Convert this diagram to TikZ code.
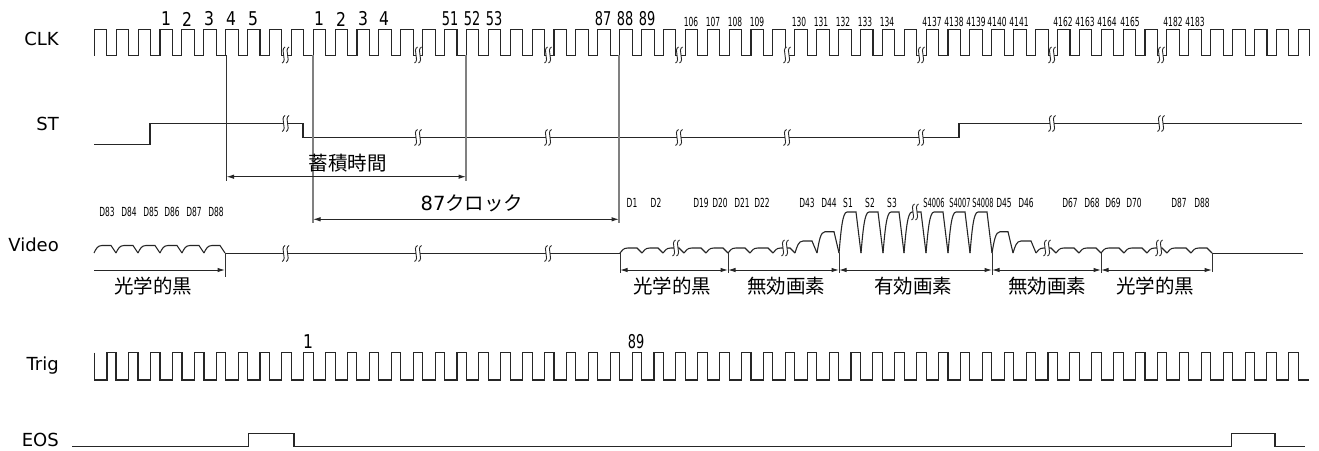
\documentclass[tikz,border=0pt]{standalone}
\usepackage{fontspec}
\usepackage{amsmath}
\setmainfont{DejaVu Sans}
\newfontfamily\jp{Noto Sans CJK JP}
\newfontfamily\onefont[FakeStretch=0.82]{DejaVu Sans}
\newfontfamily\twofont[FakeStretch=0.68]{DejaVu Sans}
\newfontfamily\smallfont[FakeStretch=0.6]{DejaVu Sans}
\newfontfamily\tinyfont[FakeStretch=0.53]{DejaVu Sans}
\usetikzlibrary{arrows.meta}

\tikzset{
  wave/.style={line width=1.1pt, color=black!85},
  mark line/.style={line width=1pt, color=black!80},
  grey line/.style={line width=1.3pt, color=black!50},
  span/.style={line width=1pt, color=black!85, {Latex[length=7.5pt,width=4.5pt]}-{Latex[length=7.5pt,width=4.5pt]}},
  halfspan/.style={line width=1pt, color=black!85, -{Latex[length=7.5pt,width=4.5pt]}},
  signal/.style={font=\fontsize{18}{18}\selectfont, inner sep=0pt, anchor=east},
  bigno/.style={font=\onefont\fontsize{19}{19}\selectfont, inner sep=0pt},
  midno/.style={font=\twofont\fontsize{19}{19}\selectfont, inner sep=0pt},
  smallno/.style={font=\smallfont\fontsize{12.5}{12.5}\selectfont, inner sep=0pt},
  tinyno/.style={font=\tinyfont\fontsize{12.5}{12.5}\selectfont, inner sep=0pt},
  jplabel/.style={font=\jp\fontsize{19.5}{19.5}\selectfont, inner sep=0pt},
  brk/.pic={
    \fill[white] (-2,-7) rectangle (2,7);
    \foreach \d in {-2,2}
      \draw[line width=0.9pt, color=black!85] (\d+1.5,-8) .. controls (\d-1,-7) and (\d-1,-3) .. (\d,0) .. controls (\d+1,3) and (\d+1,7) .. (\d-1.5,8);
  }
}

\begin{document}
\begin{tikzpicture}[x=1pt, y=-1pt]
\useasboundingbox (0,0) rectangle (1319,450);

% signal names
\node[signal] (clk) at (59,39) {CLK};
\node[signal] (st) at (59,124) {ST};
\node[signal] (video) at (59,245) {Video};
\node[signal] (trig) at (59,366) {Trig};
\node[signal] (eos) at (59,440) {EOS};

% clock numbers
\foreach \x/\t in {166/1, 187/2, 209/3, 231/4, 253/5, 319/1, 341/2, 363/3, 384/4}
  \node[bigno] (no\x) at (\x,19) {\t};
\foreach \x/\t in {450/51, 472/52, 494/53, 603/87, 625/88, 647/89}
  \node[midno] (no\x) at (\x,19) {\t};
\foreach \x/\t in {691/106, 713/107, 735/108, 757/109, 799/130, 821/131, 843/132, 865/133, 887/134,
  932/4137, 954/4138, 976/4139, 997/4140, 1019/4141, 1063/4162, 1085/4163, 1107/4164, 1130/4165,
  1173/4182, 1195/4183}
  \node[smallno] (no\x) at (\x,21.5) {\t};

% pixel names
\foreach \x/\t in {107/D83, 129/D84, 151/D85, 172/D86, 194/D87, 216/D88}
  \node[smallno] (px\x) at (\x,212) {\t};
\foreach \x/\t in {632/D1, 656/D2, 701/D19, 720/D20, 742/D21, 762/D22, 807/D43, 829/D44,
  848/S1, 870/S2, 892/S3, 1004/D45, 1026/D46, 1070/D67, 1092/D68, 1113/D69, 1134/D70, 1179/D87, 1202/D88}
  \node[smallno] (px\x) at (\x,203) {\t};
\foreach \x/\t in {934/S4006, 960/S4007, 983/S4008}
  \node[tinyno] (px\x) at (\x,203) {\t};

% CLK
\draw[wave] (94.3,55.5) \foreach \n in {0,...,54} {-- ++(0,-26) -- ++(12.5,0) -- ++(0,26) -- ++(9.39,0)}
  -- ++(0,-26) -- ++(11,0) -- ++(0,26);

% ST
\draw[wave] (94,144.5) -- (150,144.5) -- (150,123.5) -- (303,123.5) -- (303,137.5) -- (959,137.5) -- (959,123.5) -- (1302,123.5);

% Trig
\draw[wave, line width=1.5pt] (94.3,352.5) \foreach \n in {0,...,5} {-- ++(0,27.5) -- ++(12.5,0) -- ++(0,-27.5) -- ++(9.39,0)};
\draw[wave] (225.6,352.5) \foreach \n in {6,...,54} {-- ++(0,27.5) -- ++(12.5,0) -- ++(0,-27.5) -- ++(9.39,0)}
  -- ++(0,27.5) -- ++(11,0);
\node[bigno] (one) at (308,342) {1};
\node[midno] (eightynine) at (636,342) {89};

% EOS
\draw[wave] (72,446.5) -- (248.5,446.5) -- (248.5,433.5) -- (294,433.5) -- (294,446.5) -- (1231.7,446.5)
  -- (1231.7,433.5) -- (1275,433.5) -- (1275,446.5) -- (1305,446.5);

% Video
\draw[wave] (225,253.5) -- (620,253.5);
\draw[wave] (1212,253.5) -- (1303,253.5);
\foreach \a/\b/\h in {94/116/245.5, 116/138/245.5, 138/160/245.5, 160/182/245.5, 182/204/245.5, 204/225/245.5,
  620/642/248, 642/663/248, 663/684/248, 684/706/248, 706/728/248, 728/750/248, 750/773/248, 773/795/248,
  795/817/241, 817/839/231.7, 839/861/212, 861/883/212, 883/904/212, 904/926/212, 926/948/212, 948/970/212, 970/992/212,
  992/1013/231.7, 1013/1036/241, 1036/1056/248, 1056/1079/248, 1079/1101/248, 1101/1124/248, 1124/1147/248,
  1147/1167/248, 1167/1191/248, 1191/1212/248}
  \draw[wave] (\a,253) .. controls (\a+2,{\h+(253-\h)*0.45}) and (\a+3.5,\h) .. (\a+8,\h) -- (\b-5,\h) -- (\b,253);

% breaks
\foreach \x in {285.6,418,548,679,787,921,1052,1161}
  \pic at (\x,55) {brk};
\foreach \x in {285.6,1052,1161}
  \pic at (\x,123.5) {brk};
\foreach \x in {418,548,679,787,921}
  \pic at (\x,137.5) {brk};
\foreach \x in {285.6,418,548}
  \pic at (\x,253.5) {brk};
\foreach \x in {676,785,1047,1159}
  \pic at (\x,248) {brk};
\pic at (915,212) {brk};

% timing marks
\foreach \n/\x/\a/\b in {a/226.5/55/181}{
  \coordinate (top\n) at (\x,\a);
  \coordinate (bot\n) at (\x,\b);
  \draw[mark line] (top\n) -- (bot\n);
}
\foreach \n/\x/\a/\b in {c/313/55/223, d/466/55/181, e/619/55/223}{
  \coordinate (top\n) at (\x,\a);
  \coordinate (bot\n) at (\x,\b);
  \draw[grey line] (top\n) -- (bot\n);
}
\coordinate (sta) at (226.5,176.7);
\coordinate (stb) at (466,176.7);
\draw[span] (sta) -- (stb);
\node[jplabel] (store) at (347.5,163) {蓄積時間};
\coordinate (cka) at (313,219.3);
\coordinate (ckb) at (619,219.3);
\draw[span] (cka) -- (ckb);
\node[font=\fontsize{19.5}{19.5}\selectfont, inner sep=0pt] (clock87) at (472,203) {87{\jp クロック}};

% video ranges
\foreach \n/\x/\b in {p/225/277, q/620/273, r/728/273, s/839/273, t/992/275, u/1101/273, v/1212/272}{
  \coordinate (top\n) at (\x,253);
  \coordinate (bot\n) at (\x,\b);
  \draw[mark line] (top\n) -- (bot\n);
  \coordinate (arr\n) at (\x,270);
}
\coordinate (arro) at (94,270);
\draw[halfspan] (arro) -- (arrp);
\foreach \a/\b in {q/r, r/s, s/t, t/u, u/v}
  \draw[span] (arr\a) -- (arr\b);
\node[jplabel] (black1) at (153,286) {光学的黒};
\node[jplabel] (black2) at (672,286) {光学的黒};
\node[jplabel] (dummy1) at (786,286) {無効画素};
\node[jplabel] (active) at (913,286) {有効画素};
\node[jplabel] (dummy2) at (1047,286) {無効画素};
\node[jplabel] (black3) at (1155,286) {光学的黒};
\end{tikzpicture}
\end{document}
